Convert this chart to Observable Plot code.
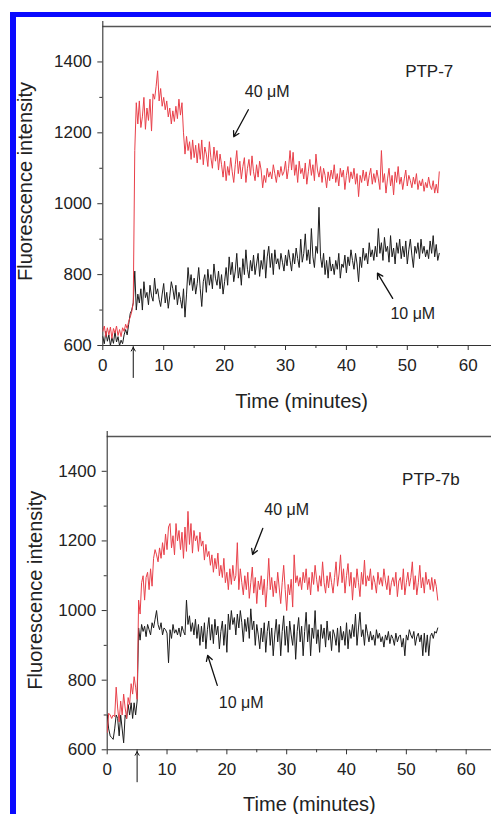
<!DOCTYPE html>
<html><head><meta charset="utf-8">
<script src="https://cdn.jsdelivr.net/npm/d3@7"></script>
<script src="https://cdn.jsdelivr.net/npm/@observablehq/plot@0.6"></script>
<style>
body{margin:0;background:#fff;}
#wrap{position:relative;width:491px;height:814px;overflow:hidden;background:#fff;font-family:"Liberation Sans",Arial,sans-serif;}
.panel{position:absolute;left:0;}
.blue{position:absolute;background:#0a0aff;z-index:5;}
</style></head><body>
<div id="wrap">
 <div id="p1" class="panel" style="top:0px"></div>
 <div id="p2" class="panel" style="top:400px"></div>
 <div class="blue" style="left:10px;top:12px;width:481px;height:5px"></div>
 <div class="blue" style="left:10px;top:12px;width:6px;height:802px"></div>
</div>
<script>
// sampling interval (minutes)
const STEP = 0.25;

// PTP-7, 40 µM (red)
const ptp7_40uM = [
640,655,625,650, 630,652,620,648, 635,655,628,645, 625,650,640,660, 648,668,680,695,
720,1150,1285,1225, 1290,1215,1245,1300, 1210,1270,1235,1295, 1205,1310,1295,1330, 1375,1290,1325,1275,
1300,1265,1290,1245, 1270,1225,1262,1232, 1275,1240,1295,1250, 1285,1200,1140,1190, 1150,1175,1125,1180,
1130,1165,1115,1170, 1125,1180,1110,1160, 1140,1105,1175,1130, 1100,1160,1120,1150, 1095,1140,1110,1075,
1120,1065,1105,1080, 1130,1090,1060,1110, 1150,1085,1120,1070, 1105,1130,1060,1100, 1125,1080,1135,1090,
1065,1110,1075,1120, 1095,1045,1080,1060, 1100,1075,1090,1070, 1110,1085,1060,1095, 1075,1105,1080,1090,
1120,1070,1100,1150, 1095,1145,1080,1110, 1060,1120,1085,1100, 1070,1115,1055,1090, 1125,1080,1110,1065,
1140,1095,1075,1105, 1060,1100,1080,1045, 1090,1065,1095,1070, 1110,1060,1085,1050, 1100,1075,1095,1040,
1080,1105,1060,1090, 1070,1100,1055,1085, 1020,1080,1060,1095, 1065,1090,1050,1080, 1100,1055,1085,1060,
1095,1070,1040,1150, 1060,1085,1030,1070, 1100,1050,1080,1025, 1090,1060,1105,1055, 1075,1040,1070,1095,
1050,1080,1065,1045, 1075,1055,1085,1040, 1065,1050,1070,1035, 1060,1045,1075,1050, 1040,1065,1030,1055,
1030,1090];

// PTP-7, 10 µM (black)
const ptp7_10uM = [
625,605,640,612, 630,600,622,606, 640,610,625,600, 615,605,630,645, 630,660,690,700,
720,810,700,745, 720,760,700,780, 735,750,715,770, 740,725,790,745, 760,730,710,745,
775,720,750,705, 740,780,760,730, 770,715,750,730, 705,760,680,745, 820,770,800,755,
790,745,775,820, 760,710,780,800, 750,815,770,800, 760,830,790,770, 810,760,800,745,
780,820,770,850, 800,835,780,810, 860,790,820,770, 845,800,870,815, 790,840,810,855,
800,830,860,795, 840,815,870,790, 850,880,820,860, 800,870,830,845, 815,860,835,810,
855,825,870,840, 810,860,830,875, 845,820,900,835, 860,915,840,870, 830,930,850,820,
880,860,990,850, 820,860,800,840, 790,850,810,830, 800,840,815,860, 790,830,820,855,
805,850,825,870, 840,815,860,830, 780,850,820,875, 840,860,830,890, 850,870,840,880,
850,930,860,890, 840,905,865,880, 835,910,850,875, 830,890,860,900, 845,880,850,895,
830,870,900,855, 820,880,860,890, 845,900,860,880, 850,870,845,895, 860,910,850,885,
840,860];

// PTP-7b, 40 µM (red)
const ptp7b_40uM = [
650,705,700,690, 700,695,780,720, 680,740,700,760, 720,690,750,730, 790,760,810,780,
745,1030,990,1080, 1100,1030,1095,1110, 1060,1120,1070,1150, 1175,1160,1140,1180, 1150,1195,1160,1220,
1175,1240,1250,1180, 1215,1160,1250,1200, 1230,1175,1225,1150, 1240,1170,1285,1190, 1250,1165,1230,1200,
1215,1170,1225,1185, 1200,1145,1190,1155, 1170,1130,1160,1110, 1150,1120,1165,1100, 1130,1095,1150,1080,
1110,1060,1120,1075, 1130,1085,1100,1195, 1060,1120,1080,1045, 1100,1060,1110,1035, 1080,1125,1050,1095,
1020,1085,1060,1100, 1045,1090,1010,1070, 1150,1060,1095,1040, 1085,1050,1110,1065, 1020,1080,1130,1060,
1000,1075,1045,1090, 1010,1160,1080,1100, 1070,1095,1060,1110, 1080,1120,1060,1095, 1045,1110,1075,1130,
1090,1055,1100,1070, 1140,1080,1050,1100, 1065,1110,1080,1050, 1095,1140,1070,1105, 1160,1080,1120,1050,
1100,1135,1070,1110, 1030,1095,1065,1120, 1080,1040,1110,1075, 1145,1070,1100,1085, 1120,1060,1100,1080,
1050,1110,1075,1095, 1070,1120,1085,1060, 1100,1045,1080,1095, 1070,1110,1040,1085, 1095,1060,1120,1045,
1080,1110,1070,1095, 1140,1060,1100,1045, 1080,1130,1065,1095, 1050,1110,1075,1090, 1060,1095,1055,1090,
1070,1030];

// PTP-7b, 10 µM (black)
const ptp7b_10uM = [
700,660,640,635, 630,660,700,690, 640,700,660,620, 700,690,730,700, 735,690,735,700,
740,950,915,960, 940,955,925,960, 945,930,965,950, 975,1000,960,945, 965,930,950,945,
935,850,945,920, 960,935,945,930, 950,925,955,940, 930,1030,960,985, 940,965,930,975,
920,960,900,955, 910,965,890,945, 980,915,960,905, 975,930,955,890, 940,970,900,960,
880,990,945,1000, 960,980,930,990, 950,1000,965,910, 975,940,980,920, 1005,945,970,900,
960,930,890,950, 910,965,880,940, 970,900,950,870, 930,975,910,960, 870,940,985,900,
955,880,970,930, 900,960,860,940, 980,910,955,870, 940,995,910,960, 870,950,920,1000,
905,945,880,960, 920,950,895,970, 915,940,885,945, 930,900,950,880, 955,915,940,900,
965,890,945,920, 960,925,990,900, 950,995,925,945, 900,960,935,910, 940,915,930,900,
945,920,935,910, 925,895,930,915, 940,905,930,920, 900,935,910,925, 930,895,920,870,
930,915,945,930, 920,940,900,925, 935,910,930,870, 935,880,930,870, 925,935,920,940,
935,950];

// axis ticks
const xMajor = [0, 10, 20, 30, 40, 50, 60];
const xMinor = [5, 15, 25, 35, 45, 55];
const yMajor = [600, 800, 1000, 1200, 1400];
const yMinor = [700, 900, 1100, 1300];

// labels (data coordinates)
const panelTitles = ["PTP-7", "PTP-7b"];
const concLabels = ["40 μM", "10 μM"];
const xTitle = "Time (minutes)";
const yTitle = "Fluorescence intensity";
const injectionTime = 5;

const ann1 = {title:{x:53.6,y:1372}, l40:{x:27.0,y:1316}, l10:{x:50.9,y:690},
  a40:{x1:23.9,y1:1265,x2:21.5,y2:1189}, a10:{x1:47.6,y1:733,x2:45.1,y2:804}};
const ann2 = {title:{x:54.1,y:1377}, l40:{x:30.0,y:1288}, l10:{x:22.4,y:736},
  a40:{x1:26.0,y1:1236,x2:24.3,y2:1161}, a10:{x1:18.4,y1:785,x2:16.8,y2:871}};

const toSeries = vals => vals.map((v, i) => ({t: i * STEP, v}));

function panel(o) {
  const red = toSeries(o.red), black = toSeries(o.black);
  const a = o.ann;
  const yPerPx = 900 / (o.h - o.mt - o.mb);
  return Plot.plot({
    width: 491, height: o.h,
    marginLeft: o.ml, marginRight: 0, marginTop: o.mt, marginBottom: o.mb,
    style: {fontFamily: "'Liberation Sans', Arial, sans-serif", background: "transparent", overflow: "visible", color: "#222"},
    x: {domain: [0, o.xMax]},
    y: {domain: [600, 1500]},
    marks: [
      Plot.ruleY([600], {stroke: "#333", strokeWidth: 1.1}),
      Plot.ruleY([1500], {stroke: "#555", strokeWidth: 1.3}),
      Plot.ruleX([0], {y1: 600, y2: 1500 + 5 * yPerPx, stroke: "#333", strokeWidth: 1.1}),
      Plot.axisX({ticks: xMajor, tickSize: 5, tickPadding: 8, fontSize: 17, label: null, tickFormat: d3.format("d"), stroke: "#333"}),
      Plot.axisX({ticks: xMinor, tickSize: 3, text: null, label: null, stroke: "#333"}),
      Plot.axisY({ticks: yMajor, tickSize: 5, tickPadding: 6, fontSize: 17, label: null, tickFormat: d3.format("d"), stroke: "#333"}),
      Plot.axisY({ticks: yMinor, tickSize: 3, text: null, label: null, stroke: "#333"}),
      Plot.line(black, {x: "t", y: "v", stroke: "#1c1c1c", strokeWidth: 1, clip: true}),
      Plot.line(red, {x: "t", y: "v", stroke: "#e8404a", strokeWidth: 1, clip: true}),
      Plot.text([o.title], {x: a.title.x, y: a.title.y, text: d => d, fontSize: 17, fill: "#222"}),
      Plot.text([concLabels[0]], {x: a.l40.x, y: a.l40.y, text: d => d, fontSize: 16, fill: "#222"}),
      Plot.text([concLabels[1]], {x: a.l10.x, y: a.l10.y, text: d => d, fontSize: 16, fill: "#222"}),
      Plot.arrow([a.a40, a.a10], {x1: "x1", y1: "y1", x2: "x2", y2: "y2", stroke: "#111", strokeWidth: 1.3, headLength: 7}),
      Plot.arrow([{x: injectionTime}], {x1: "x", x2: "x", y1: 600 - 32 * yPerPx, y2: 600 - 2 * yPerPx, stroke: "#111", strokeWidth: 1, headLength: 6}),
      Plot.text([xTitle], {frameAnchor: "bottom", dx: o.xtDx, dy: o.xtDy, text: d => d, fontSize: 20, lineAnchor: "middle", fill: "#222"}),
      Plot.text([yTitle], {frameAnchor: "left", rotate: -90, dx: o.ytDx, dy: o.ytDy, text: d => d, fontSize: 20, lineAnchor: "middle", textAnchor: "middle", fill: "#222"})
    ]
  });
}

document.getElementById("p1").append(panel({
  red: ptp7_40uM, black: ptp7_10uM, title: panelTitles[0], ann: ann1,
  h: 400, ml: 102.3, mt: 26, mb: 55, xMax: (491 - 102.3) / 6.09,
  xtDx: 4.5, xtDy: 55.6, ytDx: -77.7, ytDy: -4.5
}));
document.getElementById("p2").append(panel({
  red: ptp7b_40uM, black: ptp7b_10uM, title: panelTitles[1], ann: ann2,
  h: 414, ml: 106.7, mt: 36, mb: 64.7, xMax: (491 - 106.7) / 5.983,
  xtDx: 10, xtDy: 54.3, ytDx: -72, ytDy: -3
}));
</script>
</body></html>
